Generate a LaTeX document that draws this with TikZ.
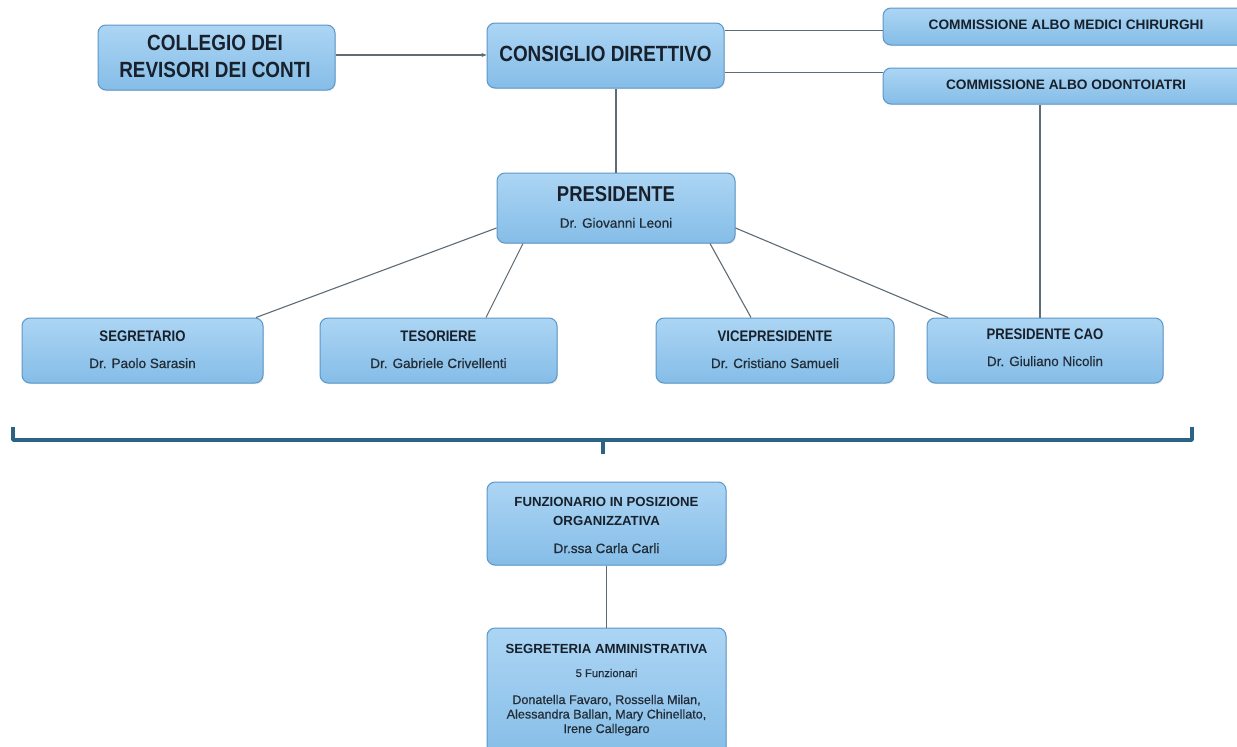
\documentclass[tikz,border=0pt]{standalone}
\usepackage{fontspec}
\setmainfont{Liberation Sans}
\newfontfamily\condfont[FakeStretch=0.86]{Liberation Sans}
\newfontfamily\medfont[FakeBold=0.6]{Liberation Sans}
\usetikzlibrary{arrows.meta,shadows}
\definecolor{boxtop}{HTML}{ACD5F4}
\definecolor{boxbot}{HTML}{85BDE7}
\definecolor{boxedge}{HTML}{5B97C9}
\definecolor{txtc}{HTML}{17202B}
\definecolor{namec}{HTML}{222C37}
\definecolor{conn}{HTML}{5E6C76}
\definecolor{bracec}{HTML}{2C6283}
\newcommand\ocBig{\condfont\bfseries\fontsize{22}{26}\selectfont}
\newcommand\ocPres{\condfont\bfseries\fontsize{21.5}{26}\selectfont}
\newcommand\ocMid{\condfont\bfseries\fontsize{15.3}{18}\selectfont}
\newcommand\ocName{\medfont\fontsize{13.5}{16}\selectfont}
\newcommand\ocComm{\bfseries\fontsize{13.7}{16}\selectfont}
\newcommand\ocLow{\bfseries\fontsize{13.2}{16}\selectfont}
\newcommand\ocLowName{\medfont\fontsize{13.5}{16}\selectfont}
\newcommand\ocSmall{\medfont\fontsize{11.2}{14}\selectfont}
\newcommand\ocList{\medfont\fontsize{12.6}{14}\selectfont}
\tikzset{
  orgbox/.style={draw=boxedge, line width=1pt, rounded corners=8pt,
    top color=boxtop, bottom color=boxbot, inner sep=0pt,
    drop shadow={opacity=0.18, shadow xshift=0.8pt, shadow yshift=-1.2pt}},
  ttl/.style={text=txtc, inner sep=0pt, anchor=base},
  nm/.style={text=namec, inner sep=0pt, anchor=base},
  link/.style={draw=conn, line width=1.1pt},
  bracestyle/.style={draw=bracec, line width=3.6pt, line join=round}
}
\begin{document}
\begin{tikzpicture}[x=1pt,y=-1pt]
\clip (0,0) rectangle (1237,747);
\fill[white] (0,0) rectangle (1237,747);

% boxes
\node[orgbox, minimum width=237pt, minimum height=65pt] (coll) at (216.5,57.5) {};
\node[orgbox, minimum width=237pt, minimum height=65pt] (cons) at (605.5,55.5) {};
\node[orgbox, minimum width=367pt, minimum height=37pt] (med) at (1066.5,26.5) {};
\node[orgbox, minimum width=367pt, minimum height=36pt] (odo) at (1066.5,86) {};
\node[orgbox, minimum width=238pt, minimum height=70pt] (pres) at (616,208) {};
\node[orgbox, minimum width=241pt, minimum height=65pt] (seg) at (142.5,350.5) {};
\node[orgbox, minimum width=237pt, minimum height=65pt] (tes) at (438.5,350.5) {};
\node[orgbox, minimum width=238pt, minimum height=65pt] (vice) at (775,350.5) {};
\node[orgbox, minimum width=236pt, minimum height=65pt] (cao) at (1045,350.5) {};
\node[orgbox, minimum width=239pt, minimum height=83pt] (funz) at (606.5,523.5) {};
\node[orgbox, minimum width=239pt, minimum height=132pt] (segr) at (606.5,694) {};

% texts
\node[ttl] (collA) at (215,50.4) {\ocBig COLLEGIO DEI};
\node[ttl] (collB) at (215,77) {\ocBig REVISORI DEI CONTI};
\node[ttl] (consT) at (605.5,61) {\ocBig CONSIGLIO DIRETTIVO};
\node[ttl] (medT) at (1066,29.3) {\ocComm COMMISSIONE ALBO MEDICI CHIRURGHI};
\node[ttl] (odoT) at (1066,89.3) {\ocComm COMMISSIONE ALBO ODONTOIATRI};
\node[ttl] (presT) at (616,201.5) {\ocPres PRESIDENTE};
\node[nm] (presN) at (616,227.7) {\ocName Dr. Giovanni Leoni};
\node[ttl] (segT) at (142.5,341.2) {\ocMid SEGRETARIO};
\node[nm] (segN) at (142.5,368) {\ocName Dr. Paolo Sarasin};
\node[ttl] (tesT) at (438.5,341.2) {\ocMid TESORIERE};
\node[nm] (tesN) at (438.5,368) {\ocName Dr. Gabriele Crivellenti};
\node[ttl] (viceT) at (775,341.2) {\ocMid VICEPRESIDENTE};
\node[nm] (viceN) at (775,368) {\ocName Dr. Cristiano Samueli};
\node[ttl] (caoT) at (1045,339.5) {\ocMid PRESIDENTE CAO};
\node[nm] (caoN) at (1045,366) {\ocName Dr. Giuliano Nicolin};
\node[ttl] (funzA) at (606.5,506) {\ocLow FUNZIONARIO IN POSIZIONE};
\node[ttl] (funzB) at (606.5,525) {\ocLow ORGANIZZATIVA};
\node[nm] (funzN) at (606.5,553) {\ocLowName Dr.ssa Carla Carli};
\node[ttl] (segrT) at (606.5,653.3) {\ocLow SEGRETERIA AMMINISTRATIVA};
\node[nm] (segrS) at (606.5,677) {\ocSmall 5 Funzionari};
\node[nm] (segrL1) at (606.5,704) {\ocList Donatella Favaro, Rossella Milan,};
\node[nm] (segrL2) at (606.5,718.5) {\ocList Alessandra Ballan, Mary Chinellato,};
\node[nm] (segrL3) at (606.5,733) {\ocList Irene Callegaro};

% connectors
\draw[link, -{Stealth[length=5pt,width=4pt]}] ([yshift=2.5pt]coll.east) -- ([yshift=0.5pt]cons.west);
\coordinate (c1) at ([yshift=25pt]cons.east);
\coordinate (c2) at ([yshift=-17pt]cons.east);
\draw[link] (c1) -- (c1 -| med.west);
\draw[link] (c2) -- (c2 -| odo.west);
\draw[link] (pres.north) -- (pres.north |- cons.south);
\coordinate (c3) at ([xshift=-26.5pt]odo.south);
\draw[link] (c3) -- (c3 |- cao.north);
\draw[link] ([yshift=-20pt]pres.west) -- ([xshift=113.5pt]seg.north);
\draw[link] ([xshift=-93pt]pres.south) -- ([xshift=47.5pt]tes.north);
\draw[link] ([xshift=94pt]pres.south) -- ([xshift=-24pt]vice.north);
\draw[link] ([yshift=-20pt]pres.east) -- ([xshift=-97pt]cao.north);
\draw[link] (funz.south) -- (segr.north);

% brace
\coordinate (bl) at (13,427);
\coordinate (blc) at (13,440);
\coordinate (br) at (1192,427);
\coordinate (brc) at (1192,440);
\coordinate (bm) at (603,440);
\coordinate (bt) at (603,454);
\draw[bracestyle] (bl) -- (blc) -- (brc) -- (br);
\draw[bracestyle] (bm) -- (bt);
\end{tikzpicture}
\end{document}
